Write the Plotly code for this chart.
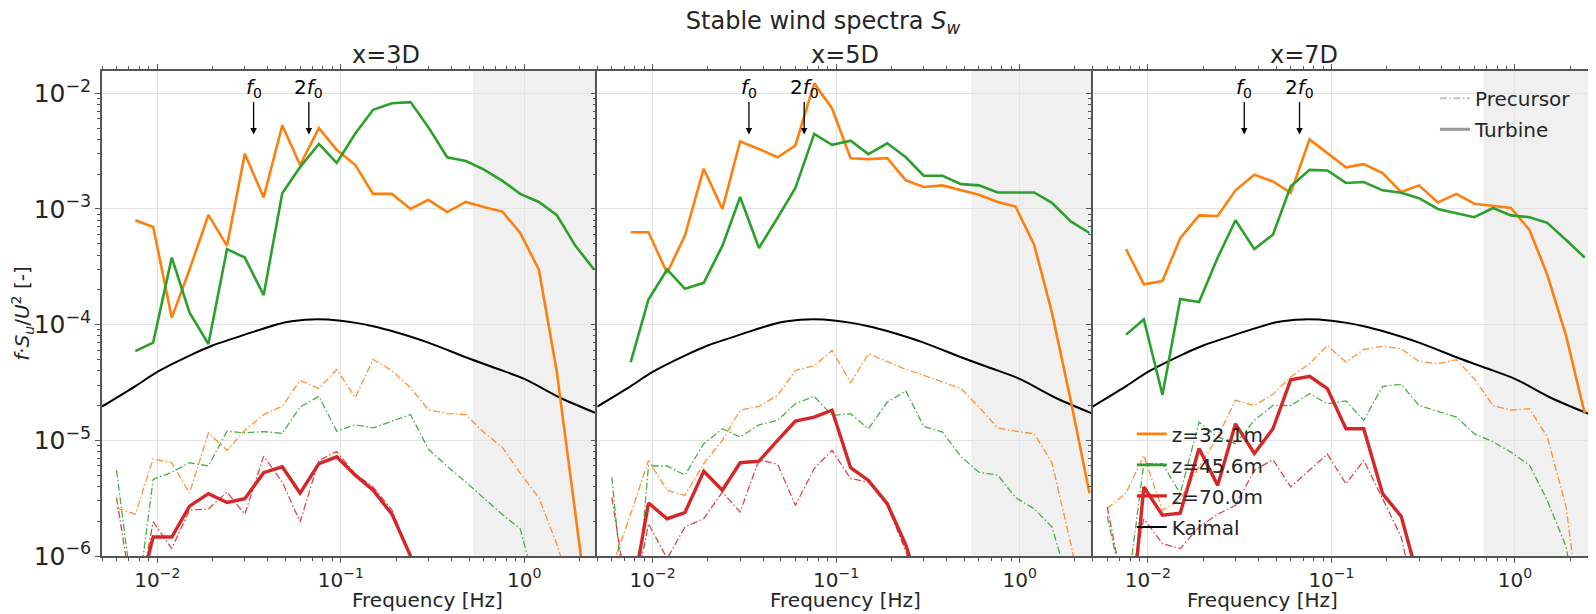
import math
import plotly.graph_objects as go

# ---------------- data ----------------
FREQ = [0.006, 0.0076, 0.0095, 0.012, 0.015, 0.019, 0.024, 0.030, 0.038, 0.048,
        0.060, 0.076, 0.095, 0.12, 0.15, 0.19, 0.24, 0.30, 0.38, 0.48,
        0.60, 0.76, 0.95, 1.2, 1.5, 1.9, 2.4]

PANELS = ["x=3D", "x=5D", "x=7D"]

# Turbine (solid)
T32_3D = [None, 8.0e-4, 7.0e-4, 1.15e-4, 3.0e-4, 8.9e-4, 4.8e-4, 3.0e-3, 1.26e-3, 5.3e-3,
          2.4e-3, 5.0e-3, 3.25e-3, 2.4e-3, 1.35e-3, 1.35e-3, 1.0e-3, 1.2e-3, 9.4e-4, 1.15e-3,
          1.04e-3, 9.5e-4, 6.2e-4, 3.0e-4, 4.0e-5, 2.3e-6, 1.3e-7]
T45_3D = [None, 5.9e-5, 7.0e-5, 3.8e-4, 1.27e-4, 6.8e-5, 4.5e-4, 3.8e-4, 1.8e-4, 1.37e-3,
          2.3e-3, 3.65e-3, 2.5e-3, 4.5e-3, 7.2e-3, 8.2e-3, 8.4e-3, 5.1e-3, 2.8e-3, 2.6e-3,
          2.2e-3, 1.75e-3, 1.35e-3, 1.15e-3, 8.9e-4, 4.8e-4, 3.0e-4]
T70_3D = [None, 3.6e-7, 1.46e-6, 1.46e-6, 2.7e-6, 3.46e-6, 2.9e-6, 3.13e-6, 5.25e-6, 5.9e-6,
          3.5e-6, 6.3e-6, 7.2e-6, 5.0e-6, 3.7e-6, 2.3e-6, 1.0e-6, 2.0e-7, None, None,
          None, None, None, None, None, None, None]

T32_5D = [None, 6.3e-4, 6.3e-4, 2.8e-4, 5.9e-4, 2.23e-3, 1.0e-3, 3.83e-3, 3.3e-3, 2.8e-3,
          3.54e-3, 1.22e-2, 7.4e-3, 2.75e-3, 2.7e-3, 2.75e-3, 1.77e-3, 1.55e-3, 1.6e-3, 1.45e-3,
          1.33e-3, 1.15e-3, 1.05e-3, 4.9e-4, 1.27e-4, 2.2e-5, 3.5e-6]
T45_5D = [None, 4.75e-5, 1.65e-4, 3.0e-4, 2.04e-4, 2.3e-4, 4.8e-4, 1.27e-3, 4.6e-4, 8.4e-4,
          1.52e-3, 4.46e-3, 3.59e-3, 3.9e-3, 2.98e-3, 3.7e-3, 2.8e-3, 1.94e-3, 1.94e-3, 1.64e-3,
          1.6e-3, 1.39e-3, 1.39e-3, 1.39e-3, 1.13e-3, 7.8e-4, 6.2e-4]
T70_5D = [None, 3.9e-7, 2.87e-6, 2.1e-6, 2.37e-6, 5.4e-6, 3.7e-6, 6.4e-6, 6.6e-6, 1.0e-5,
          1.47e-5, 1.59e-5, 1.82e-5, 5.8e-6, 4.5e-6, 2.83e-6, 1.24e-6, 4.0e-7, None, None,
          None, None, None, None, None, None, None]

T32_7D = [None, 4.5e-4, 2.23e-4, 2.38e-4, 5.6e-4, 8.8e-4, 8.7e-4, 1.45e-3, 1.98e-3, 1.73e-3,
          1.38e-3, 4.0e-3, 3.04e-3, 2.29e-3, 2.44e-3, 2.04e-3, 1.4e-3, 1.6e-3, 1.14e-3, 1.35e-3,
          1.11e-3, 1.07e-3, 1.02e-3, 6.6e-4, 2.7e-4, 8.0e-5, 1.7e-5]
T45_7D = [None, 8.2e-5, 1.11e-4, 2.48e-5, 1.67e-4, 1.57e-4, 3.8e-4, 8.0e-4, 4.5e-4, 6.0e-4,
          1.57e-3, 2.18e-3, 2.15e-3, 1.68e-3, 1.71e-3, 1.45e-3, 1.38e-3, 1.24e-3, 1.0e-3, 9.2e-4,
          8.5e-4, 1.02e-3, 8.8e-4, 8.5e-4, 7.6e-4, 5.4e-4, 3.8e-4]
T70_7D = [None, 1.0e-7, 3.95e-6, 2.25e-6, 2.35e-6, 8.5e-6, 4.08e-6, 1.39e-5, 7.7e-6, 1.26e-5,
          3.34e-5, 3.57e-5, 2.8e-5, 1.26e-5, 1.26e-5, 3.46e-6, 2.2e-6, 6.0e-7, None, None,
          None, None, None, None, None, None, None]

# Precursor (dash-dot)
P32_3D = [2.6e-6, 2.3e-6, 6.9e-6, 6.4e-6, 3.5e-6, 1.16e-5, 8.2e-6, 1.22e-5, 1.67e-5, 1.97e-5,
          3.3e-5, 2.8e-5, 4.1e-5, 2.34e-5, 5.0e-5, 4.0e-5, 2.85e-5, 1.84e-5, 1.7e-5, 1.67e-5,
          1.18e-5, 8.7e-6, 5.2e-6, 3.2e-6, 1.28e-6, 4.0e-7, None]
P45_3D = [5.5e-6, 3.0e-7, 4.6e-6, 5.3e-6, 6.4e-6, 6.0e-6, 1.2e-5, 1.16e-5, 1.19e-5, 1.15e-5,
          1.94e-5, 2.4e-5, 1.2e-5, 1.36e-5, 1.28e-5, 1.46e-5, 1.67e-5, 8.4e-6, 5.96e-6, 4.36e-6,
          3.2e-6, 2.28e-6, 1.72e-6, 4.3e-7, None, None, None]
P70_3D = [3.2e-6, 3.0e-7, 1.97e-6, 1.16e-6, 2.5e-6, 2.55e-6, 3.57e-6, 2.3e-6, 7.3e-6, 4.36e-6,
          1.97e-6, 6.7e-6, 8.0e-6, 5.1e-6, 3.95e-6, 2.5e-6, 1.0e-6, 3.0e-7, None, None,
          None, None, None, None, None, None, None]

P32_5D = [8.0e-7, 2.3e-6, 6.7e-6, 3.7e-6, 3.35e-6, 6.3e-6, 1.0e-5, 1.82e-5, 1.97e-5, 2.45e-5,
          4.03e-5, 4.4e-5, 6.0e-5, 3.15e-5, 5.6e-5, 4.75e-5, 4.1e-5, 3.65e-5, 3.19e-5, 2.8e-5,
          1.94e-5, 1.28e-5, 1.2e-5, 1.14e-5, 6.4e-6, 1.28e-6, 2.0e-7]
P45_5D = [4.8e-6, 1.0e-7, 6.0e-6, 6.0e-6, 5.0e-6, 9.35e-6, 1.26e-5, 1.07e-5, 1.36e-5, 1.49e-5,
          2.07e-5, 2.4e-5, 1.64e-5, 1.7e-5, 1.26e-5, 2.14e-5, 2.67e-5, 1.32e-5, 1.18e-5, 7.2e-6,
          5.3e-6, 5.0e-6, 3.2e-6, 2.56e-6, 1.78e-6, 5.0e-7, None]
P70_5D = [3.2e-6, 3.0e-7, 1.9e-6, 9.5e-7, 1.78e-6, 2.1e-6, 3.57e-6, 2.4e-6, 6.8e-6, 6.2e-6,
          2.74e-6, 5.7e-6, 8.2e-6, 4.67e-6, 4.36e-6, 2.74e-6, 1.1e-6, 3.0e-7, None, None,
          None, None, None, None, None, None, None]

P32_7D = [2.57e-6, 3.5e-6, 7.4e-6, 2.48e-6, 3.07e-6, 5.9e-6, 1.07e-5, 2.22e-5, 2.0e-5, 2.5e-5,
          3.53e-5, 4.6e-5, 6.6e-5, 4.75e-5, 6.1e-5, 6.5e-5, 6.2e-5, 4.8e-5, 4.6e-5, 4.98e-5,
          3.4e-5, 2.0e-5, 1.82e-5, 1.88e-5, 1.07e-5, 2.65e-6, 1.5e-7]
P45_7D = [2.2e-6, 4.0e-7, 6.3e-6, 6.3e-6, 3.46e-6, 1.44e-5, 1.07e-5, 9.35e-6, 1.49e-5, 2.0e-5,
          2.0e-5, 2.53e-5, 2.07e-5, 2.19e-5, 1.49e-5, 2.93e-5, 3.05e-5, 2.0e-5, 1.78e-5, 1.59e-5,
          1.14e-5, 9.7e-6, 7.9e-6, 6.1e-6, 3.03e-6, 1.2e-6, 1.5e-7]
P70_7D = [2.65e-6, 4.0e-7, 2.1e-6, 1.28e-6, 1.16e-6, 1.78e-6, 2.3e-6, 2.74e-6, 5.5e-6, 6.8e-6,
          3.95e-6, 5.5e-6, 7.6e-6, 4.2e-6, 6.7e-6, 3.13e-6, 1.46e-6, 3.0e-7, None, None,
          None, None, None, None, None, None, None]

# Kaimal reference curve
KAIMAL_F = [0.005, 0.0075, 0.01, 0.015, 0.02, 0.03, 0.05, 0.07, 0.1, 0.15, 0.2, 0.3,
            0.5, 0.7, 1.0, 1.6, 2.5]
KAIMAL_S = [1.96e-5, 2.9e-5, 3.9e-5, 5.4e-5, 6.6e-5, 8.2e-5, 1.05e-4, 1.11e-4, 1.08e-4,
            9.7e-5, 8.6e-5, 7.0e-5, 5.1e-5, 4.2e-5, 3.4e-5, 2.3e-5, 1.7e-5]

SHADE_START = [0.525, 0.545, 0.673]   # start of grey band per panel
F0 = 0.0335
F2 = 0.067
ARROW_TIP = 4.4e-3

X_TICKS = [0.01, 0.1, 1]
X_TICKTEXT = ["10<sup>\u22122</sup>", "10<sup>\u22121</sup>", "10<sup>0</sup>"]

TURBINE = [[T32_3D, T45_3D, T70_3D], [T32_5D, T45_5D, T70_5D], [T32_7D, T45_7D, T70_7D]]
PRECURSOR = [[P32_3D, P45_3D, P70_3D], [P32_5D, P45_5D, P70_5D], [P32_7D, P45_7D, P70_7D]]
HEIGHTS = ["z=32.1m", "z=45.6m", "z=70.0m"]
COLORS = ["#ff7f0e", "#2ca02c", "#d62728"]
T_WIDTH = [2.6, 2.6, 3.4]

X_MIN, X_MAX = 0.005, 2.5
Y_MIN, Y_MAX = 1e-6, 10 ** -1.807

# ---------------- figure ----------------
FONT = "DejaVu Sans"
TXT = "#262626"
DASHDOT = "7px,2.5px,1.5px,2.5px"
FIG_W, FIG_H = 1586, 604          # page body has an 8px margin
fig = go.Figure()

for i in range(3):
    xa = "x" if i == 0 else f"x{i+1}"
    ya = "y" if i == 0 else f"y{i+1}"
    fig.add_trace(go.Scatter(x=KAIMAL_F, y=KAIMAL_S, mode="lines", line=dict(color="black", width=2,
                             shape="spline", smoothing=0.8), xaxis=xa, yaxis=ya, showlegend=False))
    for k in range(3):
        fig.add_trace(go.Scatter(x=FREQ, y=PRECURSOR[i][k], mode="lines",
                                 line=dict(color=COLORS[k], width=1.3, dash=DASHDOT),
                                 opacity=0.85, xaxis=xa, yaxis=ya, showlegend=False))
    for k in range(3):
        fig.add_trace(go.Scatter(x=FREQ, y=TURBINE[i][k], mode="lines",
                                 line=dict(color=COLORS[k], width=T_WIDTH[k]),
                                 xaxis=xa, yaxis=ya, showlegend=False))
    fig.add_shape(type="rect", xref=xa, yref=f"{ya} domain",
                  x0=SHADE_START[i], x1=X_MAX, y0=0, y1=1,
                  fillcolor="#f0f0f0", line=dict(width=0), layer="below")
    for f, lab in [(F0, "<i>f</i><sub>0</sub>"), (F2, "2<i>f</i><sub>0</sub>")]:
        fig.add_annotation(x=math.log10(f), y=math.log10(ARROW_TIP), xref=xa, yref=ya,
                           text=lab, showarrow=True, arrowhead=2, arrowsize=1, arrowwidth=1.3,
                           arrowcolor="black", ax=0, ay=-47, font=dict(size=20, color="black", family=FONT))
    fig.add_annotation(x=(i + 0.5) / 3, y=1.033, xref="paper", yref="paper", text=PANELS[i],
                       showarrow=False, yanchor="middle", font=dict(size=24, color=TXT, family=FONT))
    fig.add_annotation(x=(i + 0.5) / 3, y=-0.091, xref="paper", yref="paper", text="Frequency [Hz]",
                       showarrow=False, yanchor="middle", font=dict(size=20, color=TXT, family=FONT))

# legend-only entries
fig.add_trace(go.Scatter(x=[None], y=[None], mode="lines", name="Precursor", legend="legend",
                         line=dict(color="#c4c4c4", width=2, dash=DASHDOT), legendgroup="p"))
fig.add_trace(go.Scatter(x=[None], y=[None], mode="lines", name="Turbine", legend="legend",
                         line=dict(color="#999999", width=3), legendgroup="t"))
for k in range(3):
    fig.add_trace(go.Scatter(x=[None], y=[None], mode="lines", name=HEIGHTS[k], legend="legend2",
                             line=dict(color=COLORS[k], width=T_WIDTH[k]), legendgroup=f"h{k}"))
fig.add_trace(go.Scatter(x=[None], y=[None], mode="lines", name="Kaimal", legend="legend2",
                         line=dict(color="black", width=2), legendgroup="k"))

axis_common = dict(type="log", showline=True, linecolor="#555555", linewidth=1.5,
                   ticks="outside", ticklen=5, tickwidth=1.3, tickcolor="#555555",
                   showgrid=True, gridcolor="#e3e3e3", gridwidth=1, zeroline=False,
                   exponentformat="power", showexponent="all", automargin=False,
                   tickfont=dict(size=20, color=TXT, family=FONT),
                   minor=dict(ticks="outside", ticklen=3, tickwidth=1, tickcolor="#555555",
                              dtick="D1", showgrid=False))

for i in range(3):
    xname = "xaxis" if i == 0 else f"xaxis{i+1}"
    yname = "yaxis" if i == 0 else f"yaxis{i+1}"
    ycfg = dict(axis_common, domain=[0, 1], range=[math.log10(Y_MIN), math.log10(Y_MAX)],
                anchor="x" if i == 0 else f"x{i+1}", dtick=1,
                showticklabels=(i == 0), mirror=("ticks" if i == 2 else False))
    if i > 0:
        ycfg["matches"] = "y"
    else:
        ycfg["title"] = dict(text="<i>f</i>·<i>S</i><sub><i>u</i></sub>/<i>U</i><sup>2</sup> [-]",
                             standoff=4, font=dict(size=20, color=TXT, family=FONT))
    fig.update_layout(**{
        xname: dict(axis_common, domain=[i / 3, (i + 1) / 3], mirror="ticks",
                    range=[math.log10(X_MIN), math.log10(X_MAX)],
                    anchor="y" if i == 0 else f"y{i+1}",
                    tickmode="array", tickvals=X_TICKS, ticktext=X_TICKTEXT),
        yname: ycfg,
    })

fig.update_layout(
    width=FIG_W, height=FIG_H,
    margin=dict(l=94, r=6, t=63, b=56),
    paper_bgcolor="white", plot_bgcolor="white",
    font=dict(family=FONT, color=TXT, size=20),
    title=dict(text="Stable wind spectra <i>S</i><sub><i>w</i></sub>", x=815 / FIG_W, y=1 - 13 / FIG_H,
               xanchor="center", yanchor="middle", font=dict(size=24, color=TXT, family=FONT)),
    legend=dict(x=0.897, y=0.984, xanchor="left", yanchor="top", bgcolor="rgba(0,0,0,0)",
                font=dict(size=20, color=TXT, family=FONT), tracegroupgap=2),
    legend2=dict(x=0.693, y=0.292, xanchor="left", yanchor="top", bgcolor="rgba(0,0,0,0)",
                 font=dict(size=20, color=TXT, family=FONT), tracegroupgap=2),
)

fig.write_html("out.html")
